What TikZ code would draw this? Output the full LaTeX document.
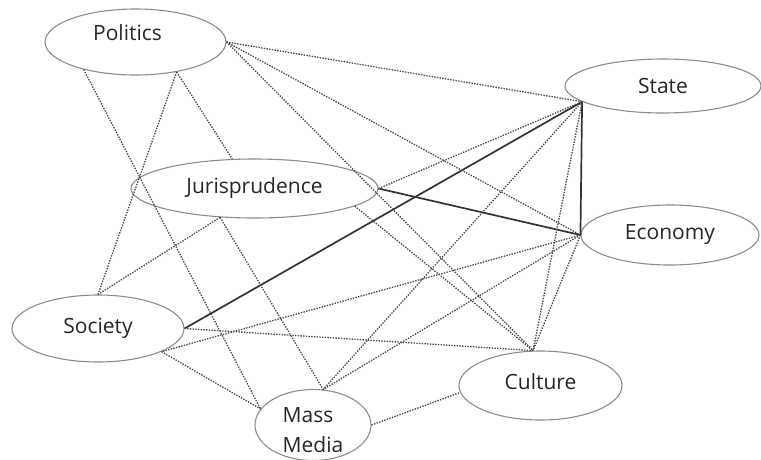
\documentclass[tikz,border=0pt]{standalone}
\usepackage{fontspec}
\setmainfont{Open Sans}
\usetikzlibrary{shapes.geometric}

\begin{document}
\begin{tikzpicture}[x=1pt,y=-1pt,
    concept/.style={ellipse,draw=black!45,line width=1.1pt,inner sep=0pt,
        text=black!85,font=\fontsize{21}{30}\selectfont},
    tie/.style={draw=black!72,line width=1.3pt,dash pattern=on 1.4pt off 1.3pt},
    strong/.style={draw=black!80,line width=1.7pt}]
% \draw [help lines,step=50] (0,0) grid (761,459) ;
\useasboundingbox (0,0) rectangle (761,459) ;

\node [concept,minimum width=181pt,minimum height=66pt,text depth=18pt] (pol) at (135.5,42) {Politics\hspace*{16pt}} ;
\node [concept,minimum width=196pt,minimum height=54pt] (sta) at (663,86) {State} ;
\node [concept,minimum width=247pt,minimum height=59pt] (jur) at (254.5,188.5) {Jurisprudence} ;
\node [concept,minimum width=178pt,minimum height=60pt] (eco) at (670,235) {Economy} ;
\node [concept,minimum width=172pt,minimum height=67pt] (soc) at (98,328.5) {Society} ;
\node [concept,minimum width=163pt,minimum height=69pt,text depth=8pt] (cul) at (540.5,385.5) {Culture} ;
\node [concept,minimum width=116pt,minimum height=66pt,inner sep=-3pt,align=left] (mm) at (313,425) {\\[-4pt]Mass\\Media} ;

% strong ties
\draw [strong] (soc.east) -- (sta.191) ;
\draw [strong] (jur.east) -- (eco.west) ;
\draw [strong] (sta.191) -- (eco.west) ;

% weak ties
\draw [tie] (pol.east) -- (sta.191) ;
\draw [tie] (pol.east) -- (eco.west) ;
\draw [tie] (pol.east) -- (cul.102) ;
\draw [tie] (pol.208) -- (mm.163) ;
\draw [tie] (pol.-36) -- (soc.north) ;
\draw [tie] (pol.-36) -- (jur.127) ;
\draw [tie] (jur.east) -- (sta.191) ;
\draw [tie] (jur.220) -- (soc.north) ;
\draw [tie] (jur.220) -- (mm.74) ;
\draw [tie] (jur.-10) -- (cul.102) ;
\draw [tie] (sta.191) -- (mm.74) ;
\draw [tie] (sta.191) -- (cul.102) ;
\draw [tie] (eco.west) -- (soc.-20) ;
\draw [tie] (eco.west) -- (mm.74) ;
\draw [tie] (eco.west) -- (cul.102) ;
\draw [tie] (soc.east) -- (cul.102) ;
\draw [tie] (soc.-20) -- (mm.163) ;
\draw [tie] (mm.east) -- (cul.185) ;
\end{tikzpicture}
\end{document}
